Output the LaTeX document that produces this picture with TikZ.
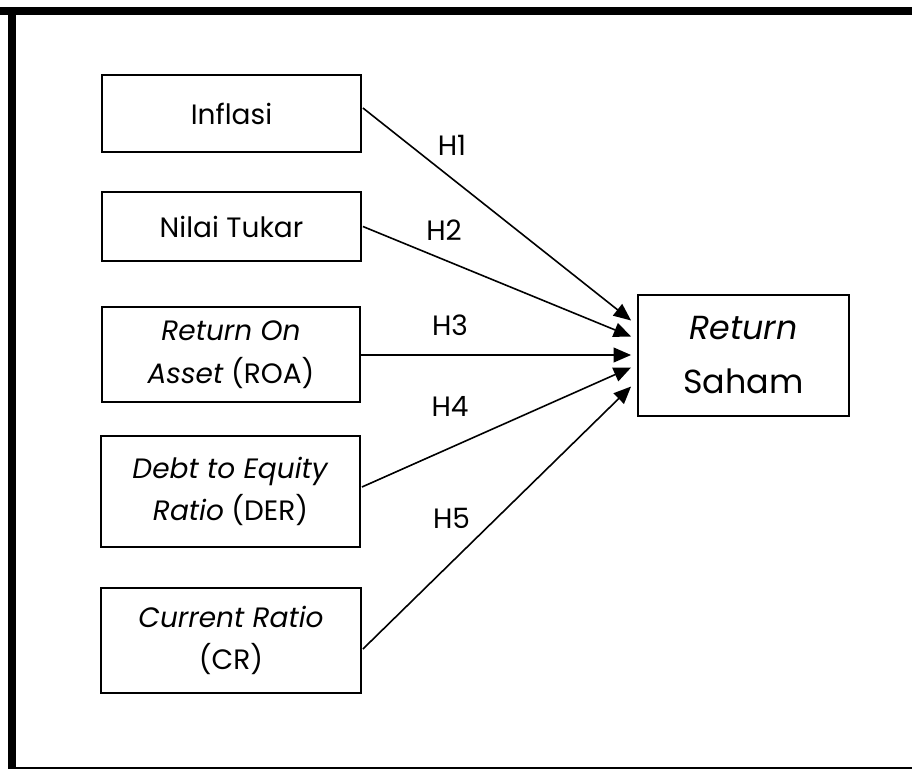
\documentclass[tikz,border=0pt]{standalone}
\usepackage{fontspec}
\setmainfont{Poppins}
\usetikzlibrary{arrows.meta,calc}
\begin{document}
\begin{tikzpicture}[x=0.75pt,y=-0.75pt,
  vbox/.style={draw,line width=1.4pt,inner sep=0pt,align=center,font=\fontsize{21}{32}\selectfont},
  rbox/.style={draw,line width=1.4pt,inner sep=0pt,align=center,font=\fontsize{25}{40.5}\selectfont},
  hyp/.style={font=\fontsize{21}{25}\selectfont,inner sep=0pt},
  conn/.style={line width=1.2pt,-{Triangle[length=13pt,width=11pt]}}]
\useasboundingbox (0,0) rectangle (912,771);
% frame
\draw[line width=6pt] (0,11) -- (912,11);
\draw[line width=6pt] (12,7) -- (12,769);
\draw[line width=1.5pt] (8,768) -- (912,768);
% boxes
\node[vbox,minimum width=259*0.75pt,minimum height=77*0.75pt] (inf) at (231.5,113.5) {Inflasi};
\node[vbox,minimum width=259*0.75pt,minimum height=69*0.75pt] (nt) at (231.5,226.5) {Nilai Tukar};
\node[vbox,minimum width=258*0.75pt,minimum height=95*0.75pt] (roa) at (231,354.5) {\textit{Return On}\\\textit{Asset} (ROA)};
\node[vbox,minimum width=259*0.75pt,minimum height=111*0.75pt] (der) at (230.5,491.5) {\textit{Debt to Equity}\\\textit{Ratio} (DER)};
\node[vbox,minimum width=260*0.75pt,minimum height=105*0.75pt] (cr) at (231,640.5) {\textit{Current Ratio}\\(CR)};
\node[rbox,minimum width=211*0.75pt,minimum height=121*0.75pt] (rs) at (743.5,355.5) {\textit{Return}\\Saham};
% targets
\coordinate (t1) at ($(rs.west)+(-6,-35)$);
\coordinate (t2) at ($(rs.west)+(-6,-19)$);
\coordinate (t3) at ($(rs.west)+(-6,-0.5)$);
\coordinate (t4) at ($(rs.west)+(-6,12)$);
\coordinate (t5) at ($(rs.west)+(-6,31)$);
\draw[conn] ($(inf.east)+(1,-5.5)$) -- (t1);
\draw[conn] ($(nt.east)+(1,0)$) -- (t2);
\draw[conn] ($(roa.east)+(0,0.5)$) -- (t3);
\draw[conn] ($(der.east)+(1,-4.5)$) -- (t4);
\draw[conn] ($(cr.east)+(1,8.5)$) -- (t5);
% labels
\node[hyp] (h1) at (452,145.5) {H1};
\node[hyp] (h2) at (444,230) {H2};
\node[hyp] (h3) at (450,325) {H3};
\node[hyp] (h4) at (450,406) {H4};
\node[hyp] (h5) at (451.5,518) {H5};
\end{tikzpicture}
\end{document}
